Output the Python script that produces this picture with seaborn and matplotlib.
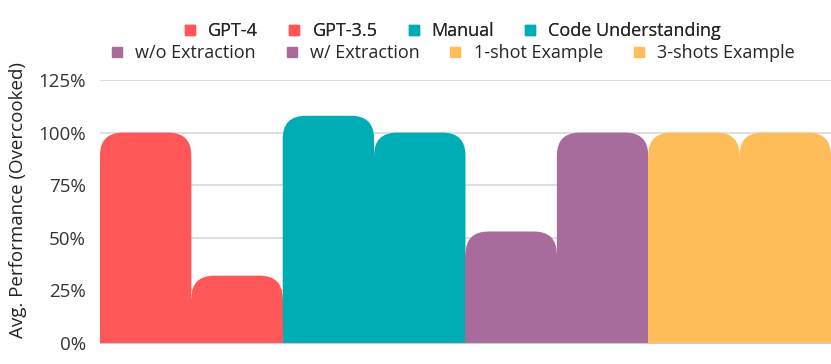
import pandas as pd
import seaborn as sns
import matplotlib.pyplot as plt
from matplotlib.patches import FancyBboxPatch, Rectangle
from matplotlib.lines import Line2D
from matplotlib.ticker import PercentFormatter

labels = ['GPT-4', 'GPT-3.5', 'Manual', 'Code Understanding',
          'w/o Extraction', 'w/ Extraction', '1-shot Example', '3-shots Example']
values = [100, 32, 108, 100, 53, 100, 100, 100]
colors = ['#FF5757', '#FF5757', '#00ADB5', '#00ADB5',
          '#A76C9C', '#A76C9C', '#FFBD59', '#FFBD59']

df = pd.DataFrame({'label': labels, 'value': values})

sns.set_style('white')
plt.rcParams['font.family'] = ['Open Sans', 'DejaVu Sans']

fig = plt.figure(figsize=(8.31, 3.64), dpi=100)
ax = fig.add_axes([0.1203, 0.0577, 0.8797, 0.7225])

sns.barplot(data=df, x='label', y='value', hue='label', palette=colors,
            width=1.0, saturation=1, legend=False, ax=ax, zorder=2)
ax.set_ylim(0, 125)
ax.set_xlim(-0.5, len(labels) - 0.5)

# swap plain bars for ones with rounded tops
fig.canvas.draw()
x_px = ax.transData.transform((1, 0))[0] - ax.transData.transform((0, 0))[0]
y_px = ax.transData.transform((0, 1))[1] - ax.transData.transform((0, 0))[1]
r_px = 23
rx = r_px / x_px
aspect = (1 / y_px) / (1 / x_px)
for p in list(ax.patches):
    x0, w, h = p.get_x(), p.get_width(), p.get_height()
    fc = p.get_facecolor()
    p.remove()
    ry = rx * aspect
    ax.add_patch(FancyBboxPatch((x0, 0), w, h,
                                boxstyle=f'round,pad=0,rounding_size={rx}',
                                mutation_aspect=aspect, fc=fc, ec='none',
                                zorder=2))
    ax.add_patch(Rectangle((x0, 0), w, h - ry, fc=fc, ec='none', zorder=2))

ax.set_yticks([0, 25, 50, 75, 100, 125])
ax.yaxis.set_major_formatter(PercentFormatter(decimals=0))
ax.grid(axis='y', color='#D9D9D9', lw=1.2, zorder=0)
ax.set_xticks([])
ax.set_xlabel('')
ax.set_ylabel('Avg. Performance (Overcooked)', fontsize=13.5, color='#222222',
              labelpad=8, y=0.545)
ax.tick_params(axis='y', labelsize=13.5, labelcolor='#333333', length=0, pad=10)
for s in ['top', 'right', 'left']:
    ax.spines[s].set_visible(False)
ax.spines['bottom'].set_color('#C8C8D0')
ax.spines['bottom'].set_zorder(3)

handles = [Line2D([], [], marker='s', ls='none', color=c, markersize=7)
           for c in colors]
kw = dict(ncol=4, frameon=False, fontsize=13, handletextpad=0.5,
          columnspacing=1.5, handlelength=1.0, loc='center')
leg1 = fig.legend(handles[:4], labels[:4], bbox_to_anchor=(0.543, 0.914), **kw)
fig.add_artist(leg1)
fig.legend(handles[4:], labels[4:], bbox_to_anchor=(0.543, 0.854), **kw)

fig.savefig('out.png', dpi=100)
